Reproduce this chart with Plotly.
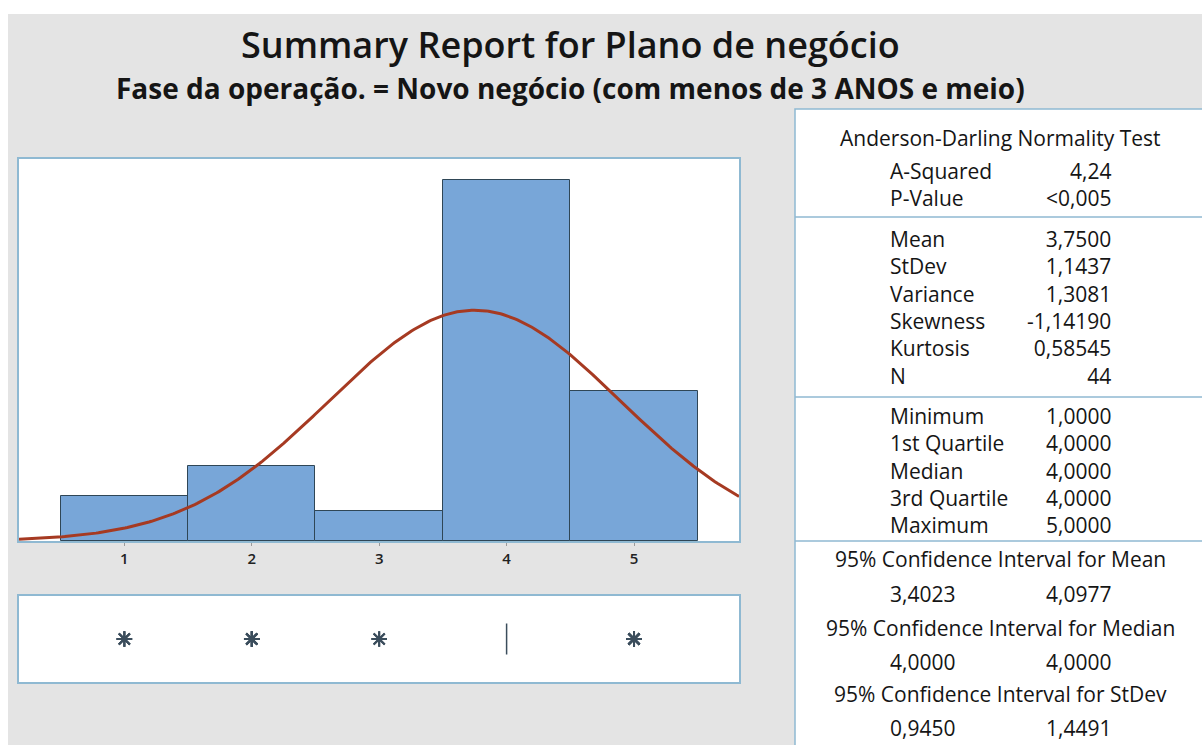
import numpy as np
import plotly.graph_objects as go

W, H = 1202, 745

# Histogram data: bin centres and counts
bins = [1, 2, 3, 4, 5]
counts = [3, 5, 2, 24, 10]

# Descriptive statistics shown in the table
n_obs = 44
mean = 3.75
stdev = 1.1437

ad_rows = [("A-Squared", "4,24"), ("P-Value", "<0,005")]
moment_rows = [("Mean", "3,7500"), ("StDev", "1,1437"), ("Variance", "1,3081"),
               ("Skewness", "-1,14190"), ("Kurtosis", "0,58545"), ("N", "44")]
quantile_rows = [("Minimum", "1,0000"), ("1st Quartile", "4,0000"), ("Median", "4,0000"),
                 ("3rd Quartile", "4,0000"), ("Maximum", "5,0000")]
ci_rows = [("95% Confidence Interval for Mean", "3,4023", "4,0977"),
           ("95% Confidence Interval for Median", "4,0000", "4,0000"),
           ("95% Confidence Interval for StDev", "0,9450", "1,4491")]

BG = "#e4e4e4"
PANEL_LINE = "#8fb9d2"
BAR_FILL = "#78a6d8"
BAR_EDGE = "#2f4656"
CURVE = "#a63a22"
TXT = "#151515"
FONT = "Open Sans"


def px(x):
    return x / W


def py(y):
    return 1 - y / H


# pixel layout of the panels
L, R = 19, 739
HIST_TOP, HIST_BOT = 159, 541
BOX_TOP, BOX_BOT = 596, 682
XR = [0.173, 5.824]

fig = go.Figure()

fig.add_trace(go.Bar(x=bins, y=counts, width=1.0,
                     marker=dict(color=BAR_FILL, line=dict(color=BAR_EDGE, width=1)),
                     xaxis="x", yaxis="y", showlegend=False, hoverinfo="skip"))

# fitted normal curve scaled to counts (bin width = 1)
xs = np.linspace(XR[0], XR[1], 300)
ys = n_obs * np.exp(-0.5 * ((xs - mean) / stdev) ** 2) / (stdev * np.sqrt(2 * np.pi))
fig.add_trace(go.Scatter(x=xs, y=ys, mode="lines", line=dict(color=CURVE, width=3),
                         xaxis="x", yaxis="y", showlegend=False, hoverinfo="skip"))

# boxplot built from the individual observations
obs = np.repeat(bins, counts)
fig.add_trace(go.Box(x=obs, y0=0, orientation="h", boxpoints="outliers", jitter=0,
                     pointpos=0, width=0.72, whiskerwidth=0,
                     fillcolor="rgba(0,0,0,0)", line=dict(color="#3b4d5c", width=1.5),
                     marker=dict(symbol="asterisk-open", size=13, color="#3b4d5c",
                                 line=dict(color="#3b4d5c", width=2)),
                     xaxis="x2", yaxis="y2", showlegend=False, hoverinfo="skip"))

axis_common = dict(showgrid=False, zeroline=False, showline=True, mirror=True,
                   linecolor=PANEL_LINE, linewidth=1.5)

fig.update_layout(
    width=W, height=H, margin=dict(l=0, r=0, t=0, b=0),
    paper_bgcolor=BG, plot_bgcolor="white",
    bargap=0,
    xaxis=dict(domain=[px(L), px(R)], range=XR, tickvals=bins, ticks="outside",
               ticklen=3, tickcolor="#9a9a9a",
               tickfont=dict(family=FONT, size=15, color="#222", weight=600),
               anchor="y", **axis_common),
    yaxis=dict(domain=[py(HIST_BOT), py(HIST_TOP)], range=[0, 25.4], showticklabels=False,
               ticks="", anchor="x", **axis_common),
    xaxis2=dict(domain=[px(L), px(R)], range=XR, showticklabels=False, ticks="",
                anchor="y2", **axis_common),
    yaxis2=dict(domain=[py(BOX_BOT), py(BOX_TOP)], range=[-1, 1], showticklabels=False,
                ticks="", anchor="x2", **axis_common),
)

shapes = []
# white margin strips along the top and left edges
shapes.append(dict(type="rect", xref="paper", yref="paper", x0=0, x1=1, y0=py(14), y1=1,
                   fillcolor="white", line=dict(width=0), layer="above"))
shapes.append(dict(type="rect", xref="paper", yref="paper", x0=0, x1=px(8), y0=0, y1=1,
                   fillcolor="white", line=dict(width=0), layer="above"))
# statistics table panel
TL = 795
shapes.append(dict(type="rect", xref="paper", yref="paper", x0=px(TL), x1=px(1215),
                   y0=py(760), y1=py(109), fillcolor="white",
                   line=dict(color=PANEL_LINE, width=1.5), layer="below"))
for yy in (217, 397, 541):
    shapes.append(dict(type="line", xref="paper", yref="paper", x0=px(TL), x1=1,
                       y0=py(yy), y1=py(yy), line=dict(color=PANEL_LINE, width=1.5)))
fig.update_layout(shapes=shapes)

ann = []


def text(x, y, s, size, anchor="left", weight="normal", yanchor="middle"):
    ann.append(dict(xref="paper", yref="paper", x=px(x), y=py(y), text=s, showarrow=False,
                    xanchor=anchor, yanchor=yanchor, align=anchor if anchor != "center" else "center",
                    font=dict(family=FONT, size=size, color=TXT, weight=weight)))


text(570, 44, "Summary Report for Plano de negócio", 36, "center", 600)
text(570, 88, "Fase da operação. = Novo negócio (com menos de 3 ANOS e meio)", 28, "center", 700)

LX, VX, CX = 888, 1113, 1000
FS = 21


def block(rows, y_first, y_last):
    # one multi-line annotation per column keeps the rows evenly spaced
    labels = "<br>".join(r[0] for r in rows)
    values = "<br>".join(r[1] for r in rows)
    yc = (y_first + y_last) / 2
    text(LX, yc, labels, FS, "left")
    text(VX, yc, values, FS, "right")


text(CX, 138, "Anderson-Darling Normality Test", FS, "center")
block(ad_rows, 171, 197)
block(moment_rows, 240, 375)
block(quantile_rows, 416, 524)
for (head, lo, hi), (yh, yv) in zip(ci_rows, ((559, 594), (628, 662), (694, 728))):
    text(CX, yh, head, FS, "center")
    text(LX, yv, lo, FS)
    text(VX, yv, hi, FS, "right")

fig.update_layout(annotations=ann)
fig.write_html("out.html")
